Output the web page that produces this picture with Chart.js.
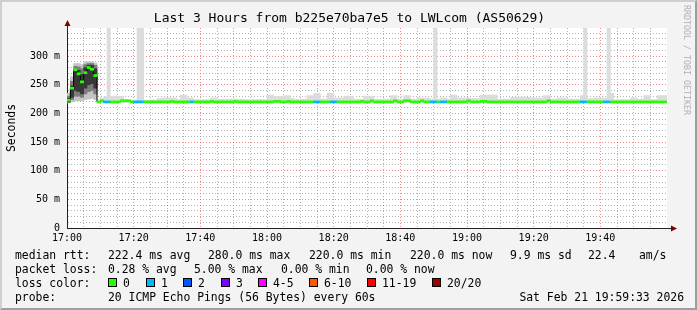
<!DOCTYPE html>
<html>
<head>
<meta charset="utf-8">
<script src="https://cdn.jsdelivr.net/npm/chart.js@4/dist/chart.umd.min.js"></script>
<style>
html, body { margin: 0; padding: 0; }
body { width: 697px; height: 310px; background: #f3f3f3; position: relative; overflow: hidden;
       font-family: "DejaVu Sans Mono", monospace; color: #000; }
#chart { position: absolute; left: 0; top: 0; }
.frame { position: absolute; left: 0; top: 0; width: 697px; height: 310px; box-sizing: border-box;
         border-top: 2px solid #cfcfcf; border-left: 2px solid #cfcfcf;
         border-right: 2px solid #9e9e9e; border-bottom: 2px solid #9e9e9e; pointer-events: none; }
.t { position: absolute; white-space: pre; font-size: 11.4px; line-height: 14px; }
.title { position: absolute; left: 0; width: 699px; top: 10px; text-align: center; font-size: 13px; line-height: 16px; white-space: pre; }
.rot { position: absolute; white-space: pre; }
.box { position: absolute; width: 7px; height: 7px; border: 1px solid #000; }
</style>
</head>
<body>
<canvas id="chart" width="697" height="310"></canvas>
<div class="title">Last 3 Hours from b225e70ba7e5 to LWLcom (AS50629)</div>
<div class="rot" style="left:11px;top:128px;font-size:11.4px;transform:translate(-50%,-50%) rotate(-90deg)">Seconds</div>
<div class="rot" style="left:687px;top:60px;font-size:8.3px;color:#b0b0b0;transform:translate(-50%,-50%) rotate(90deg)">RRDTOOL / TOBI OETIKER</div>
<div id="legend"></div>
<div class="frame"></div>
<script>
// time axis: one bar per minute, 17:00 .. 19:59
const xTickLabels = ['17:00', '17:20', '17:40', '18:00', '18:20', '18:40', '19:00', '19:20', '19:40'];
const yTickLabels = ['0', '50 m', '100 m', '150 m', '200 m', '250 m', '300 m'];

// median rtt per minute (ms)
const medianRtt = [
  223,244,276,269,255,271,280,277,266,220,222,220,220,220,220,220,222,222,222,220,
  220,220,220,220,220,220,220,220,220,220,220,221,220,220,220,220,220,220,220,220,
  220,220,220,221,220,220,220,220,220,220,221,220,220,220,220,220,220,220,220,220,
  220,220,221,221,220,220,221,220,220,220,220,220,220,220,220,220,220,220,220,220,
  220,220,220,220,220,220,220,220,221,220,220,222,220,220,220,220,220,220,222,220,
  220,222,222,220,220,220,222,220,220,220,220,220,220,220,220,220,220,220,220,220,
  222,220,220,220,221,221,220,220,220,220,220,220,220,220,220,220,220,220,220,220,
  220,220,220,220,222,220,220,220,220,220,220,220,220,220,220,220,220,220,220,220,
  220,220,220,220,220,220,220,220,220,220,220,220,220,220,220,220,220,220,220,220
];
// lost pings (out of 20) per minute
const lossCount = [
  0,0,0,0,0,0,0,0,0,0,0,1,1,0,0,0,0,0,0,0,
  1,1,1,0,0,0,0,0,0,0,0,0,0,0,0,0,0,1,0,0,
  0,0,0,0,0,0,0,0,0,0,0,0,0,0,0,0,0,0,0,0,
  0,0,0,0,0,0,0,0,0,0,0,0,0,0,1,1,0,0,0,1,
  1,0,0,0,0,0,0,0,0,0,0,0,0,0,0,0,0,0,0,0,
  0,0,0,0,0,0,0,0,0,1,1,0,1,1,0,0,0,0,0,0,
  0,0,0,0,0,0,0,0,0,0,0,0,0,0,0,0,0,0,0,0,
  0,0,0,0,0,0,0,0,0,0,0,0,0,0,1,1,0,0,0,0,
  0,1,1,0,0,0,0,0,0,0,0,0,0,0,0,0,0,0,0,0
];
// smoke: fastest / slowest ping per minute (ms)
const smokeMin = [
  218,220,222,222,222,224,225,226,224,219,219,219,219,219,219,219,219,219,219,219,
  219,219,219,219,219,219,219,219,219,219,219,219,219,219,219,219,219,219,219,219,
  219,219,219,219,219,219,219,219,219,219,219,219,219,219,219,219,219,219,219,219,
  219,219,219,219,219,219,219,219,219,219,219,219,219,219,219,219,219,219,219,219,
  219,219,219,219,219,219,219,219,219,219,219,219,219,219,219,219,219,219,219,219,
  219,219,219,219,219,219,219,219,219,219,219,219,219,219,219,219,219,219,219,219,
  219,219,219,219,219,219,219,219,219,219,219,219,219,219,219,219,219,219,219,219,
  219,219,219,219,219,219,219,219,219,219,219,219,219,219,219,219,219,219,219,219,
  219,219,219,219,219,219,219,219,219,219,219,219,219,219,219,219,219,219,219,219
];
const smokeMax = [
  235,264,287,287,285,290,290,290,288,224,226,229,400,230,230,230,230,224,223,223,
  223,400,400,223,223,224,223,226,227,227,227,227,227,224,232,232,227,227,224,224,
  224,224,224,227,227,225,225,225,225,225,225,225,225,224,224,224,224,224,224,224,
  232,232,229,229,229,231,231,226,225,225,225,225,231,231,235,235,225,225,235,235,
  227,227,227,230,230,230,225,225,225,230,230,230,225,225,225,225,225,231,231,225,
  225,231,231,225,225,227,227,227,227,225,400,225,227,227,225,232,232,227,227,227,
  227,226,226,226,232,232,232,232,232,225,225,225,225,228,228,228,228,228,228,227,
  227,227,227,231,231,225,225,227,227,227,225,225,225,225,231,400,226,226,227,227,
  227,227,400,235,224,224,224,224,224,227,227,225,225,231,231,224,224,231,231,231
];
// denser smoke in the first minutes
const midLo  = [219,224,230,230,228,234,238,240,234];
const midHi  = [230,256,282,281,278,285,287,287,284];
const coreLo = [220,228,240,238,234,244,250,252,244];
const coreHi = [226,248,276,275,268,280,284,284,278];

const lossLabels = ['0', '1', '2', '3', '4-5', '6-10', '11-19', '20/20'];
const lossColors = ['#26ff00', '#00b8ff', '#0059ff', '#7e00ff', '#ff00ff', '#ff5500', '#ff0000', '#a10000'];

function lossBucket(n) {
  if (n <= 3) return n;
  if (n <= 5) return 4;
  if (n <= 10) return 5;
  if (n <= 19) return 6;
  return 7;
}

const range = (lo, hi) => lo.map((v, i) => ({ x: i + 0.5, y: [v, hi[i]] }));

// legend rows below the graph
const legend = document.getElementById('legend');
function txt(s, left, top) {
  const d = document.createElement('div');
  d.className = 't';
  d.textContent = s;
  d.style.left = left + 'px';
  d.style.top = top + 'px';
  legend.appendChild(d);
  return d;
}
txt('median rtt:', 15, 248);
txt('222.4 ms avg', 108, 248);
txt('280.0 ms max', 208, 248);
txt('220.0 ms min', 309, 248);
txt('220.0 ms now', 410, 248);
txt('9.9 ms sd', 510, 248);
txt('22.4', 588, 248);
txt('am/s', 639, 248);
txt('packet loss:', 15, 262);
txt('0.28 % avg', 108, 262);
txt('5.00 % max', 194, 262);
txt('0.00 % min', 281, 262);
txt('0.00 % now', 366, 262);
txt('loss color:', 15, 276);
const boxX = [108, 146, 183, 221, 258, 309, 367, 432];
lossLabels.forEach((l, i) => {
  const b = document.createElement('div');
  b.className = 'box';
  b.style.left = boxX[i] + 'px';
  b.style.top = '278px';
  b.style.background = lossColors[i];
  legend.appendChild(b);
  txt(l, boxX[i] + 15, 276);
});
txt('probe:', 15, 290);
txt('20 ICMP Echo Pings (56 Bytes) every 60s', 108, 290);
const dt = txt('Sat Feb 21 19:59:33 2026', 0, 290);
dt.style.left = '';
dt.style.right = '13px';

const plotBg = {
  id: 'plotBg',
  beforeDraw(chart) {
    const { ctx, chartArea: a } = chart;
    ctx.save();
    ctx.fillStyle = '#ffffff';
    ctx.fillRect(a.left, a.top, a.right - a.left, a.bottom - a.top);
    ctx.restore();
  },
  afterDraw(chart) {
    const { ctx, chartArea: a } = chart;
    const x0 = Math.round(a.left) + 0.5, y0 = Math.round(a.bottom) + 0.5;
    ctx.save();
    ctx.strokeStyle = '#222';
    ctx.lineWidth = 1;
    ctx.beginPath();
    ctx.moveTo(x0, a.top); ctx.lineTo(x0, a.top - 4);
    ctx.moveTo(a.right, y0); ctx.lineTo(a.right + 5, y0);
    ctx.stroke();
    ctx.fillStyle = '#7f0000';
    ctx.beginPath();
    ctx.moveTo(x0, a.top - 8); ctx.lineTo(x0 - 3, a.top - 2); ctx.lineTo(x0 + 3, a.top - 2);
    ctx.closePath(); ctx.fill();
    ctx.beginPath();
    ctx.moveTo(a.right + 10, y0); ctx.lineTo(a.right + 4, y0 - 3); ctx.lineTo(a.right + 4, y0 + 3);
    ctx.closePath(); ctx.fill();
    ctx.restore();
  }
};

Chart.defaults.font.family = '"DejaVu Sans Mono", monospace';
Chart.defaults.color = '#000';

const minorGrid = 'rgba(130,130,130,0.6)';
const majorGrid = 'rgba(235,60,60,0.6)';

new Chart(document.getElementById('chart'), {
  type: 'bar',
  data: {
    datasets: [
      {
        label: 'smoke',
        data: range(smokeMin, smokeMax),
        backgroundColor: (c) => c.dataIndex < 9 ? '#c4c4c4' : '#dcdcdc',
        grouped: false, barPercentage: 1, categoryPercentage: 1, clip: 0, order: 5
      },
      {
        label: 'smoke mid',
        data: range(midLo, midHi),
        backgroundColor: '#7c7c7c',
        grouped: false, barPercentage: 1, categoryPercentage: 1, order: 4
      },
      {
        label: 'smoke core',
        data: range(coreLo, coreHi),
        backgroundColor: '#383838',
        grouped: false, barPercentage: 1, categoryPercentage: 1, order: 3
      },
      {
        type: 'line',
        label: 'median',
        data: medianRtt.map((v, i) => ({ x: i + 0.5, y: v })),
        borderColor: '#000',
        borderWidth: 1,
        pointRadius: 0,
        stepped: 'middle',
        order: 2
      },
      {
        label: 'median rtt',
        data: medianRtt.map((v, i) => ({ x: i + 0.5, y: [v - 1.8, v + 1.8] })),
        backgroundColor: lossCount.map(n => lossColors[lossBucket(n)]),
        grouped: false, barPercentage: 1, categoryPercentage: 1, order: 1
      }
    ]
  },
  options: {
    responsive: false,
    animation: false,
    devicePixelRatio: 1,
    layout: { padding: { left: 0, right: 30, top: 28, bottom: 0 } },
    plugins: { legend: { display: false }, tooltip: { enabled: false } },
    scales: {
      x: {
        type: 'linear',
        min: 0,
        max: 180,
        offset: false,
        afterFit: (s) => { s.height = 82; },
        grid: {
          offset: false,
          drawTicks: false,
          color: (c) => {
            const v = c.tick.value;
            if (v === 0 || v === 180) return 'rgba(0,0,0,0)';
            return v % 20 === 0 ? majorGrid : minorGrid;
          }
        },
        border: { color: '#222', dash: [1, 2] },
        ticks: {
          stepSize: 5,
          autoSkip: false,
          maxRotation: 0,
          padding: 4,
          font: { size: 10 },
          callback: (v) => (v % 20 === 0 && xTickLabels[v / 20]) ? xTickLabels[v / 20] : ''
        }
      },
      y: {
        min: 0,
        max: 349,
        afterFit: (s) => { s.width = 67; },
        grid: {
          drawTicks: false,
          color: (c) => {
            const v = c.tick.value;
            if (v === 0) return 'rgba(0,0,0,0)';
            return v % 50 === 0 ? majorGrid : minorGrid;
          }
        },
        border: { color: '#222', dash: [1, 2] },
        ticks: {
          stepSize: 10,
          autoSkip: false,
          includeBounds: false,
          padding: 7,
          font: { size: 10 },
          callback: (v) => (v % 50 === 0 && yTickLabels[v / 50]) ? yTickLabels[v / 50] : ''
        }
      }
    }
  },
  plugins: [plotBg]
});
</script>
</body>
</html>
